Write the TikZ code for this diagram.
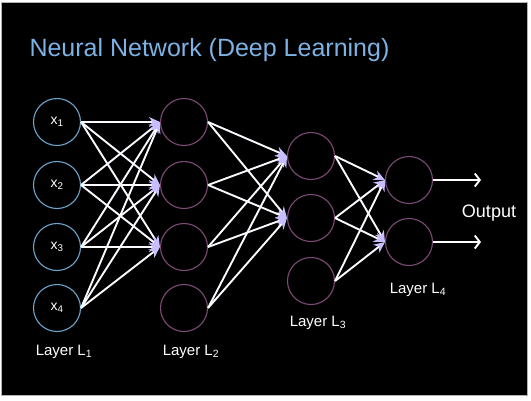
\documentclass[tikz,border=0pt]{standalone}
\usepackage{fontspec}
\setmainfont{Liberation Sans}
\usetikzlibrary{arrows.meta}
\definecolor{inblue}{RGB}{110,165,205}
\definecolor{hidpurple}{RGB}{125,75,115}
\definecolor{tiplav}{RGB}{200,190,255}
\definecolor{titleblue}{RGB}{125,178,228}
\begin{document}
\begin{tikzpicture}[x=1pt,y=-1pt,
        neuron/.style={circle, draw, line width=1.1pt, minimum size=47pt, inner sep=0pt},
        link/.style={draw=white!92!tiplav, line width=1.9pt,
            -{Stealth[length=11pt,width=10pt,color=tiplav,fill=tiplav]}},
        outlink/.style={draw=white, line width=1.9pt, -{Straight Barb[length=5pt,width=13pt]}},
        layername/.style={text=white, font=\fontsize{15}{18}\selectfont}]
            \useasboundingbox (0,0) rectangle (531,400);
            \fill[white] (0,0) rectangle (531,400);
            \draw[fill=black, draw=gray!60, line width=1pt] (1,2) rectangle (527,395);

            \node (title) [anchor=base west, text=titleblue, font=\fontsize{25}{30}\selectfont]
                at (26,56) {Neural Network (Deep Learning)};

            \foreach \i/\y in {1/122, 2/185, 3/247, 4/308} {
                \node (a\i) at (57,\y) [neuron, draw=inblue, text=white,
                    font=\fontsize{14}{16}\selectfont] {x\textsubscript{\i}};
                \node (b\i) at (184,\y) [neuron, draw=hidpurple] {};
            }
            \foreach \i/\y in {1/156, 2/218, 3/281} {
                \node (c\i) at (311,\y) [neuron, draw=hidpurple] {};
            }
            \foreach \i/\y in {1/180, 2/242} {
                \node (d\i) at (409,\y) [neuron, draw=hidpurple] {};
                \coordinate (o\i) at (481,\y);
            }

            \foreach \i in {1, 2, 3, 4} {
                \foreach \j in {1, 2, 3} {
                    \draw[link] (a\i.east) -- (b\j.west);
                }
                \foreach \j in {1, 2} {
                    \draw[link] (b\i.east) -- (c\j.west);
                }
            }
            \foreach \i in {1, 2, 3} {
                \foreach \j in {1, 2} {
                    \draw[link] (c\i.east) -- (d\j.west);
                }
            }
            \foreach \j in {1, 2} {
                \draw[outlink] (d\j.east) -- (o\j);
            }

            \node (outtext) [text=white, font=\fontsize{18}{21}\selectfont] at (489,213) {Output};
            \node (lab1) [layername] at (64,352) {Layer L\textsubscript{1}};
            \node (lab2) [layername] at (191,352) {Layer L\textsubscript{2}};
            \node (lab3) [layername] at (318,323) {Layer L\textsubscript{3}};
            \node (lab4) [layername] at (418,290) {Layer L\textsubscript{4}};

            %\node at (0, 0) {$\cdot$};
        \end{tikzpicture}
\end{document}
